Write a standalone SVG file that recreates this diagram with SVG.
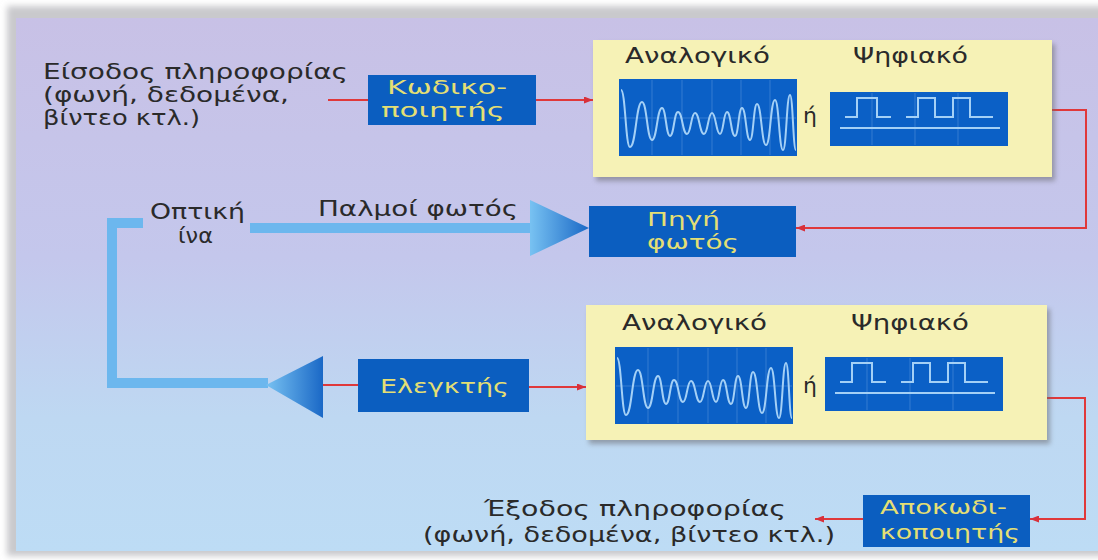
<svg xmlns="http://www.w3.org/2000/svg" width="1098" height="560" viewBox="0 0 1098 560">
<style>
  .lbl{font-family:"DejaVu Sans","Liberation Sans",sans-serif;font-size:22px;fill:#2a2a2a}
  .btxt{font-family:"DejaVu Sans","Liberation Sans",sans-serif;font-size:20px;fill:#e4df74}
  .box{fill:#0b5ec0}
  .panel{fill:#f6f2b6}
  .screen{fill:#0b60c6}
  .wave{fill:none;stroke:#a4d0f6;stroke-width:2}
  .grid{stroke:#4f8ed8;stroke-width:1;opacity:0.6}
  .red{fill:none;stroke:#e0383a;stroke-width:2}
  .fiber{fill:none;stroke:#6cb7ee;stroke-width:10}
</style>
<defs>
  <linearGradient id="bg" x1="0" y1="0" x2="0" y2="1">
    <stop offset="0" stop-color="#c8c1e6"/>
    <stop offset="0.45" stop-color="#c4c7ec"/>
    <stop offset="0.75" stop-color="#bed8f2"/>
    <stop offset="1" stop-color="#bddcf5"/>
  </linearGradient>
  <linearGradient id="triL" x1="0" y1="0" x2="1" y2="0">
    <stop offset="0" stop-color="#78c2f2"/>
    <stop offset="1" stop-color="#1a68c6"/>
  </linearGradient>
  <filter id="sh" x="-5%" y="-5%" width="110%" height="120%">
    <feGaussianBlur stdDeviation="2.5"/>
  </filter>
  <filter id="edge"><feGaussianBlur stdDeviation="3"/></filter>
  <marker id="arr" markerUnits="userSpaceOnUse" markerWidth="9" markerHeight="7" refX="9" refY="3.5" orient="auto">
    <path d="M0 0 L9 3.5 L0 7 z" fill="#d8303a"/>
  </marker>
  <g id="analog">
    <rect class="screen" x="619" y="79" width="178" height="77"/>
    <g class="grid">
      <line x1="652" y1="80" x2="652" y2="155"/>
      <line x1="682" y1="80" x2="682" y2="155"/>
      <line x1="712" y1="80" x2="712" y2="155"/>
      <line x1="741" y1="80" x2="741" y2="155"/>
      <line x1="770" y1="80" x2="770" y2="155"/>
      <line x1="620" y1="118" x2="796" y2="118"/>
    </g>
    <path class="wave" d="M621 90 C625.5 90 625.5 147 630 147 C636 147 636 102 642 102 C647 102 647 140 652 140 C657 140 657 108 662 108 C666 108 666 136 670 136 C674 136 674 112 678 112 C682.5 112 682.5 134 687 134 C691 134 691 113 695 113 C699.5 113 699.5 134 704 134 C708 134 708 113 712 113 C716 113 716 134 720 134 C723.5 134 723.5 112 727 112 C731 112 731 136 735 136 C738.5 136 738.5 108 742 108 C746 108 746 140 750 140 C753.5 140 753.5 104 757 104 C761.5 104 761.5 145 766 145 C770.5 145 770.5 100 775 100 C779 100 779 150 783 150 C786.5 150 786.5 95 790 95 C793 95 793 150 796 150"/>
  </g>
  <g id="digital">
    <rect class="screen" x="830" y="92" width="178" height="54"/>
    <g class="grid">
      <line x1="872" y1="93" x2="872" y2="145"/>
      <line x1="915" y1="93" x2="915" y2="145"/>
      <line x1="958" y1="93" x2="958" y2="145"/>
    </g>
    <path class="wave" d="M845 117 H857 V98 H877 V117 H891 M906 117 H918 V98 H935 V117 H953 V98 H970 V117 H993"/>
    <line class="wave" x1="840" y1="128" x2="1000" y2="128"/>
  </g>
</defs>

<!-- page / scan background -->
<rect x="0" y="0" width="1098" height="560" fill="#ffffff"/>
<rect x="7" y="6" width="1100" height="550" fill="#c9c9cc" filter="url(#edge)"/>
<rect x="16" y="18" width="1082" height="533" fill="url(#bg)"/>

<g id="connectors">
  <path class="red" d="M328 100 H368"/>
  <path class="red" d="M536 100 H593" marker-end="url(#arr)"/>
  <path class="red" d="M1052 110 H1086 V228 H796" marker-end="url(#arr)"/>
  <path class="red" d="M323 385 H358"/>
  <path class="red" d="M529 387 H586" marker-end="url(#arr)"/>
  <path class="red" d="M1047 398 H1085 V519 H1030" marker-end="url(#arr)"/>
  <path class="red" d="M863 519 H815" marker-end="url(#arr)"/>
  <!-- optical fibre -->
  <path class="fiber" d="M143 223 H112 V383 H268"/>
  <path class="fiber" d="M250 228 H532"/>
</g>

<g id="input-label">
  <text class="lbl" x="43" y="79" font-size="21" textLength="305" lengthAdjust="spacingAndGlyphs">Είσοδος πληροφορίας</text>
  <text class="lbl" x="43" y="102" font-size="21" textLength="246" lengthAdjust="spacingAndGlyphs">(φωνή, δεδομένα,</text>
  <text class="lbl" x="43" y="125" font-size="21" textLength="157" lengthAdjust="spacingAndGlyphs">βίντεο κτλ.)</text>
</g>

<g id="encoder">
  <rect class="box" x="368" y="75" width="168" height="50"/>
  <text class="btxt" x="387" y="94" textLength="120" lengthAdjust="spacingAndGlyphs">Κωδικο-</text>
  <text class="btxt" x="381" y="117" textLength="124" lengthAdjust="spacingAndGlyphs">ποιητής</text>
</g>

<g id="signal-panel-top">
  <rect x="596" y="44" width="459" height="137" fill="#6a6a70" opacity="0.55" filter="url(#sh)"/>
  <rect class="panel" x="593" y="40" width="459" height="137"/>
  <text class="lbl" x="625" y="63" textLength="145" lengthAdjust="spacingAndGlyphs">Αναλογικό</text>
  <text class="lbl" x="853" y="63" textLength="115" lengthAdjust="spacingAndGlyphs">Ψηφιακό</text>
  <use href="#analog"/>
  <text class="lbl" x="803" y="123" font-size="20">ή</text>
  <use href="#digital"/>
</g>

<g id="light-source">
  <polygon points="530,200 530,256 589,228" fill="url(#triL)"/>
  <rect class="box" x="589" y="206" width="207" height="51"/>
  <text class="btxt" x="647" y="226" textLength="73" lengthAdjust="spacingAndGlyphs">Πηγή</text>
  <text class="btxt" x="647" y="249" textLength="92" lengthAdjust="spacingAndGlyphs">φωτός</text>
</g>

<g id="fiber-labels">
  <text class="lbl" x="150" y="219" textLength="95" lengthAdjust="spacingAndGlyphs">Οπτική</text>
  <text class="lbl" x="178" y="243" textLength="35" lengthAdjust="spacingAndGlyphs">ίνα</text>
  <text class="lbl" x="318" y="216" textLength="200" lengthAdjust="spacingAndGlyphs">Παλμοί φωτός</text>
</g>

<g id="detector">
  <polygon points="266,385 323,356 323,418" fill="url(#triL)"/>
</g>

<g id="controller">
  <rect class="box" x="358" y="359" width="171" height="53"/>
  <text class="btxt" x="380" y="393" textLength="129" lengthAdjust="spacingAndGlyphs">Ελεγκτής</text>
</g>

<g id="signal-panel-bottom">
  <rect x="589" y="309" width="461" height="135" fill="#6a6a70" opacity="0.55" filter="url(#sh)"/>
  <rect class="panel" x="586" y="305" width="461" height="135"/>
  <text class="lbl" x="622" y="330" textLength="145" lengthAdjust="spacingAndGlyphs">Αναλογικό</text>
  <text class="lbl" x="851" y="330" textLength="118" lengthAdjust="spacingAndGlyphs">Ψηφιακό</text>
  <use href="#analog" transform="translate(-4,268)"/>
  <text class="lbl" x="803" y="393" font-size="20">ή</text>
  <use href="#digital" transform="translate(-5,265)"/>
</g>

<g id="decoder">
  <rect class="box" x="863" y="495" width="167" height="52"/>
  <text class="btxt" x="880" y="514" textLength="127" lengthAdjust="spacingAndGlyphs">Αποκωδι-</text>
  <text class="btxt" x="880" y="539" textLength="140" lengthAdjust="spacingAndGlyphs">κοποιητής</text>
</g>

<g id="output-label">
  <text class="lbl" x="484" y="516" textLength="302" lengthAdjust="spacingAndGlyphs">Έξοδος πληροφορίας</text>
  <text class="lbl" x="423" y="542" textLength="412" lengthAdjust="spacingAndGlyphs">(φωνή, δεδομένα, βίντεο κτλ.)</text>
</g>
</svg>
